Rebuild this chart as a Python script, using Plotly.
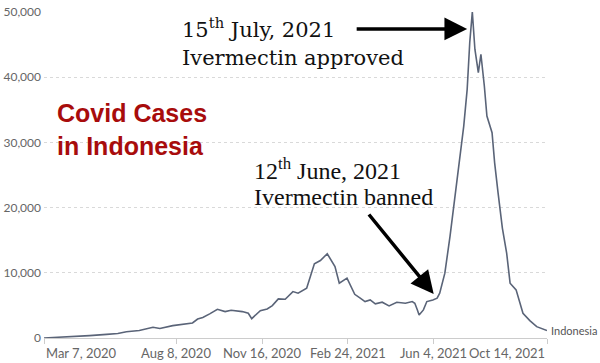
import plotly.graph_objects as go

# ---- data (7-day average of daily new cases) ----
dates = [
    "2020-03-07", "2020-03-26", "2020-04-09", "2020-04-29", "2020-05-19", "2020-06-01",
    "2020-06-11", "2020-06-26", "2020-07-12", "2020-07-20", "2020-08-04", "2020-08-20",
    "2020-08-27", "2020-09-02", "2020-09-08", "2020-09-16", "2020-09-25", "2020-10-04",
    "2020-10-11", "2020-10-24", "2020-10-31", "2020-11-04", "2020-11-14", "2020-11-22",
    "2020-11-28", "2020-12-05", "2020-12-13", "2020-12-22", "2020-12-28", "2021-01-07",
    "2021-01-16", "2021-01-23", "2021-01-31", "2021-02-09", "2021-02-14", "2021-02-23",
    "2021-02-26", "2021-03-04", "2021-03-10", "2021-03-16", "2021-03-22", "2021-03-28",
    "2021-04-05", "2021-04-13", "2021-04-22", "2021-05-02", "2021-05-10", "2021-05-13",
    "2021-05-16", "2021-05-18", "2021-05-23", "2021-05-27", "2021-06-03", "2021-06-08",
    "2021-06-11", "2021-06-17", "2021-06-23", "2021-06-29", "2021-07-04", "2021-07-09",
    "2021-07-13", "2021-07-16", "2021-07-19", "2021-07-22", "2021-07-26", "2021-07-29",
    "2021-08-02", "2021-08-05", "2021-08-11", "2021-08-14", "2021-08-18", "2021-08-23",
    "2021-08-28", "2021-09-01", "2021-09-08", "2021-09-12", "2021-09-16", "2021-09-24",
    "2021-10-02", "2021-10-14",
]
cases = [
    5, 100, 280, 370, 550, 700,
    950, 1150, 1650, 1450, 1900, 2100,
    2300, 2900, 3150, 3700, 4400, 4050,
    4250, 4050, 3800, 2970, 4200, 4460,
    4970, 6000, 5950, 7120, 6870, 7640,
    11380, 11890, 12920, 10970, 8410, 9180,
    8410, 6700, 6150, 5590, 5840, 5230,
    5490, 4920, 5490, 5330, 5590, 5330,
    4310, 3540, 4310, 5590, 5840, 6100,
    6870, 9950, 15600, 21730, 27380, 32500,
    38140, 45320, 50000, 44290, 40700, 43520,
    38650, 34040, 31480, 26870, 22250, 16870,
    13020, 8410, 7380, 5590, 3800, 2660,
    1740, 1150,
]
series_name = "Indonesia"

y_ticks = [0, 10000, 20000, 30000, 40000, 50000]
x_tick_dates = ["2020-03-07", "2020-08-08", "2020-11-16", "2021-02-24", "2021-06-04", "2021-10-14"]
x_tick_labels = ["Mar 7, 2020", "Aug 8, 2020", "Nov 16, 2020", "Feb 24, 2021", "Jun 4, 2021", "Oct 14, 2021"]

title_text = "<b>Covid Cases<br>in Indonesia</b>"
note_approved = ["15<sup>th</sup> July, 2021", "Ivermectin approved"]
note_banned = ["12<sup>th</sup> June, 2021", "Ivermectin banned"]
approved_date, approved_level = "2021-07-13", 47400
banned_date, banned_level = "2021-06-04", 6750

# ---- layout geometry (pixels) ----
W, H = 600, 363
L, R, T, B = 44, 53, 12, 25
PW, PH = W - L - R, H - T - B


def px(xp):
    return (xp - L) / PW


def py(yp):
    return (H - B - yp) / PH


LINE = "#5a6478"
GREY = "#666666"

fig = go.Figure()
fig.add_trace(go.Scatter(
    x=dates, y=cases, mode="lines", name=series_name,
    line=dict(color=LINE, width=1.6), cliponaxis=False, hoverinfo="skip",
))

fig.update_layout(
    template="none",
    width=W, height=H,
    margin=dict(l=L, r=R, t=T, b=B, pad=0, autoexpand=False),
    plot_bgcolor="white", paper_bgcolor="white",
    showlegend=False,
    font=dict(family="Lato", size=12, color=GREY),
    xaxis=dict(
        type="date", range=[x_tick_dates[0], x_tick_dates[-1]],
        automargin=False,
        showgrid=False, zeroline=False,
        showline=True, linecolor="#cccccc", linewidth=1,
        ticks="outside", ticklen=5, tickcolor="#cccccc", tickwidth=1,
        tickvals=x_tick_dates, showticklabels=False,
    ),
    yaxis=dict(
        range=[0, 50000], tickvals=y_ticks, tickformat=",",
        automargin=False,
        showgrid=True, gridcolor="#d9d9d9", griddash="dot", gridwidth=1,
        zeroline=False, showline=False, ticks="", ticklabelstandoff=2,
        tickfont=dict(family="Lato", size=12, color=GREY),
    ),
)

ann = []
# x tick labels (first left-aligned, last right-aligned, like the reference)
for i, (d, lab) in enumerate(zip(x_tick_dates, x_tick_labels)):
    anchor = "left" if i == 0 else ("right" if i == len(x_tick_dates) - 1 else "center")
    ann.append(dict(x=d, y=0, xref="x", yref="paper", text=lab, showarrow=False,
                    xanchor=anchor, yanchor="top", yshift=-5,
                    font=dict(family="Lato", size=13, color=GREY)))

# series label
ann.append(dict(x=dates[-1], y=cases[-1], xref="x", yref="y", text=series_name,
                showarrow=False, xanchor="left", yanchor="middle", xshift=2,
                font=dict(family="Lato", size=11, color="#555555")))

# red title
ann.append(dict(x=px(55), y=py(129), xref="paper", yref="paper", text=title_text,
                showarrow=False, xanchor="left", yanchor="middle", align="left",
                font=dict(family="Liberation Sans", size=25, color="#a80c0c")))

# notes (one annotation per line)
for txt, yc in zip(note_approved, [28, 58]):
    ann.append(dict(x=px(180), y=py(yc), xref="paper", yref="paper", text=txt,
                    showarrow=False, xanchor="left", yanchor="middle", align="left",
                    font=dict(family="DejaVu Serif", size=21, color="#111111")))
for txt, yc in zip(note_banned, [169, 197]):
    ann.append(dict(x=px(252), y=py(yc), xref="paper", yref="paper", text=txt,
                    showarrow=False, xanchor="left", yanchor="middle", align="left",
                    font=dict(family="Liberation Serif", size=24, color="#111111")))

# arrows
ann.append(dict(x=approved_date, y=approved_level, xref="x", yref="y", text="",
                showarrow=True, ax=-112, ay=0, arrowhead=2, arrowsize=1.3,
                arrowwidth=3.5, arrowcolor="#000000", standoff=0))
ann.append(dict(x=banned_date, y=banned_level, xref="x", yref="y", text="",
                showarrow=True, ax=-66, ay=-81, arrowhead=2, arrowsize=1.3,
                arrowwidth=3.5, arrowcolor="#000000", standoff=0))

fig.update_layout(annotations=ann)
fig.write_html("out.html", config={"displayModeBar": False},
               post_script="document.body.style.margin='0';")
